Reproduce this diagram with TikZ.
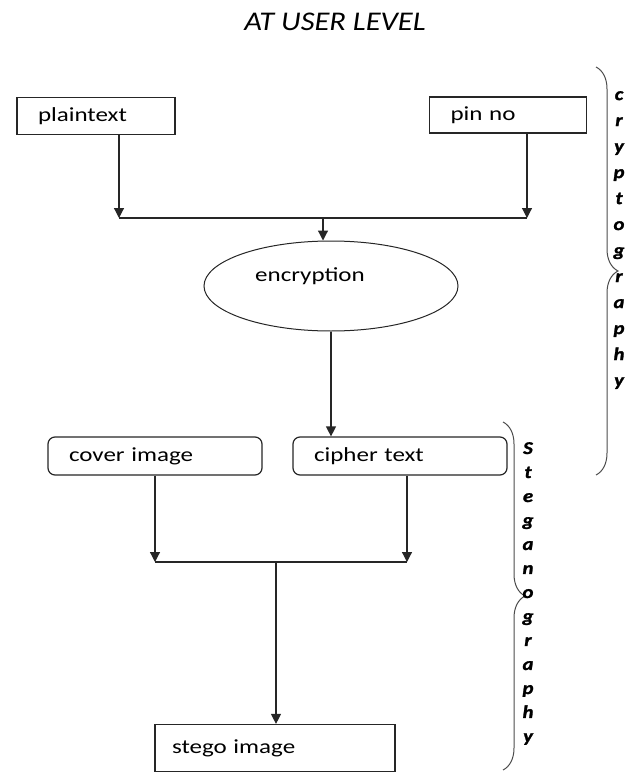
\documentclass[tikz,border=0pt]{standalone}
\usepackage{fontspec}
\setmainfont{Carlito}[FakeStretch=1.25]
\newfontfamily\headfont{Carlito}[FakeStretch=1.13]
\newfontfamily\sidefont{Carlito}[FakeStretch=1.15,FakeBold=1.5]
\usetikzlibrary{arrows.meta,shapes.geometric,decorations.pathreplacing,calc}
\tikzset{
    box/.style =    {rectangle,
                    fill=white,
                    draw=black!85,
                    text=black,
                    line width=1.2pt,
                    inner xsep=21pt,
                    inner ysep=0pt,
                    align=left,
                    text width=#1,
                    font=\fontsize{20}{24}\selectfont},
    roundbox/.style = {box=#1,
                    rounded corners=7pt,
                    minimum height=38pt},
    oval/.style =   {ellipse,
                    fill=white,
                    draw=black!85,
                    text=black,
                    line width=1pt,
                    inner sep=0pt,
                    minimum width=254pt,
                    minimum height=90pt,
                    font=\fontsize{20}{24}\selectfont},
    vword/.style =  {align=center,
                    inner sep=0pt,
                    anchor=north,
                    text=black,
                    font=\sidefont\fontsize{18}{#1}\selectfont\bfseries\itshape},
    bigbrace/.style = {decorate,
                    decoration={brace,amplitude=22pt},
                    line width=1pt,
                    draw=black!70},
    -,
    flow/.style =   {line width=1.2pt,
                    draw=black!85},
    >={Triangle[length=10pt,width=10pt]}}

\begin{document}
\begin{tikzpicture}[x=1pt,y=-1pt]
    \useasboundingbox (0,0) rectangle (627,773);
    % title
    \node[font=\headfont\fontsize{27}{30}\selectfont\itshape] (head) at (335,22) {AT USER LEVEL};
    % cryptography part
    \node[box=116pt, minimum height=37pt] (plain)  at (96,116)  {plaintext};
    \node[box=115pt, minimum height=36pt] (pin)    at (508,115) {pin no};
    \node[oval, label={[xshift=-21pt,yshift=10pt,font=\fontsize{20}{24}\selectfont]center:encryption}] (enc) at (331,286) {};
    \coordinate (j1l) at (119,218);
    \coordinate (j1r) at (527,218);
    \coordinate (j1m) at (323,218);
    \draw [flow,->] (j1l |- plain.south) -- (j1l);
    \draw [flow,->] (j1r |- pin.south) -- (j1r);
    \draw [flow] (j1l) -- (j1r);
    \draw [flow,->] (j1m) -- (j1m |- enc.north);
    % steganography part
    \node[roundbox=172pt] (cover)  at (155,456) {cover image};
    \node[roundbox=172pt] (cipher) at (400,456) {cipher text};
    \node[box=206pt, inner xsep=17pt, minimum height=47pt] (stego) at (275,748) {stego image};
    \coordinate (j2l) at (155,562);
    \coordinate (j2r) at (407,562);
    \coordinate (j2m) at (276,562);
    \draw [flow,->] (enc.south) -- (enc.south |- cipher.north);
    \draw [flow,->] (j2l |- cover.south) -- (j2l);
    \draw [flow,->] (j2r |- cipher.south) -- (j2r);
    \draw [flow] (j2l) -- (j2r);
    \draw [flow,->] (j2m) -- (j2m |- stego.north);
    % side braces
    \draw [bigbrace] (596,67) -- (596,475);
    \node[vword=26] (cryptolbl) at (619,91) {c\\r\\y\\p\\t\\o\\g\\r\\a\\p\\h\\y};
    \draw [bigbrace] (503,422) -- (503,770);
    \node[vword=24] (stegolbl) at (528,442) {S\\t\\e\\g\\a\\n\\o\\g\\r\\a\\p\\h\\y};
\end{tikzpicture}
\end{document}
